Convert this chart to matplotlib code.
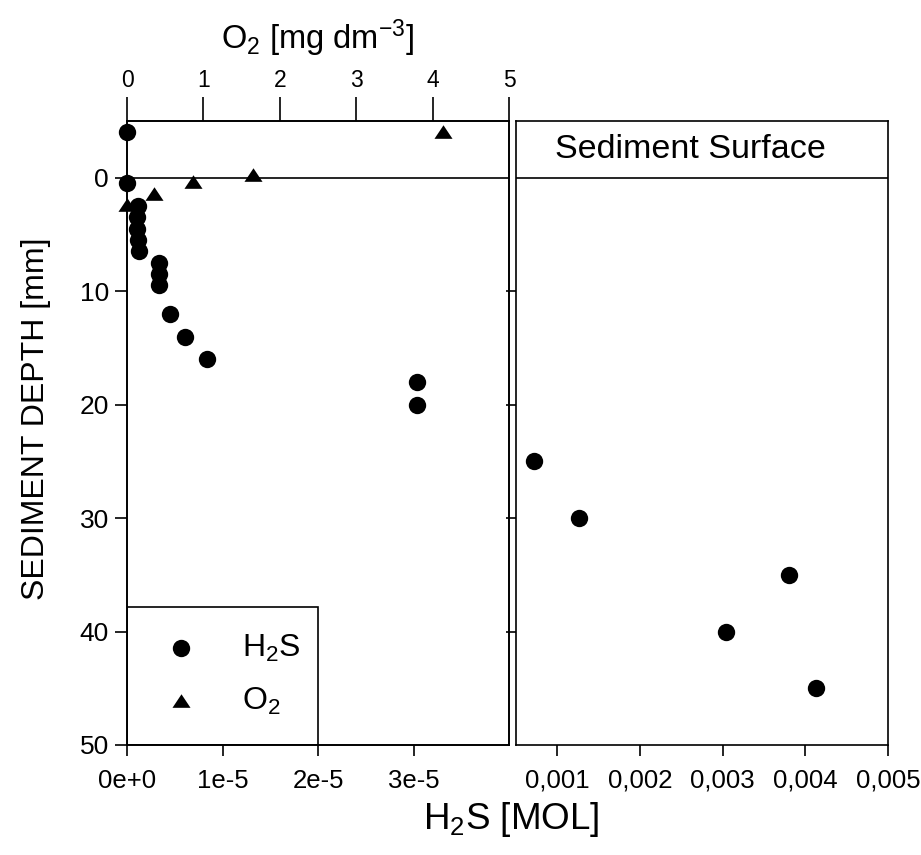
import matplotlib
matplotlib.use("Agg")
import matplotlib.pyplot as plt
from matplotlib.patches import Rectangle

plt.rcParams['font.family'] = ['Liberation Sans', 'DejaVu Sans']
plt.rcParams['mathtext.default'] = 'regular'

# ---- data ----
h2s_depth_low = [-4, 0.5, 2.5, 3.5, 4.5, 5.5, 6.5, 7.5, 8.5, 9.5, 12, 14, 16, 18, 20]
h2s_low = [0, 0, 1.2e-6, 1.0e-6, 1.0e-6, 1.1e-6, 1.3e-6, 3.3e-6, 3.3e-6, 3.3e-6,
           4.5e-6, 6.1e-6, 8.4e-6, 3.04e-5, 3.04e-5]
h2s_depth_high = [25, 30, 35, 40, 45]
h2s_high = [0.00072, 0.00126, 0.0038, 0.00304, 0.00413]
o2_depth = [-4, -0.2, 0.4, 1.4, 2.4]
o2 = [4.14, 1.65, 0.87, 0.35, 0.0]

depth_ticks = [0, 10, 20, 30, 40, 50]
left_ticks = [0, 1e-5, 2e-5, 3e-5]
left_tick_labels = ['0e+0', '1e-5', '2e-5', '3e-5']
right_ticks = [0.001, 0.002, 0.003, 0.004, 0.005]
right_tick_labels = ['0,001', '0,002', '0,003', '0,004', '0,005']
o2_ticks = [0, 1, 2, 3, 4, 5]

# ---- figure ----
fig = plt.figure(figsize=(9.21, 8.55), dpi=100)
axL = fig.add_axes([0.1379, 0.1287, 0.4148, 0.7298])
axR = fig.add_axes([0.5603, 0.1287, 0.4039, 0.7298])

lw = 1.2
tri = [(-1, -0.7), (1, -0.7), (0, 0.8)]

for ax in (axL, axR):
    ax.set_ylim(50, -5)
    for s in ax.spines.values():
        s.set_linewidth(lw)
    ax.axhline(0, color='black', lw=lw)

# left panel
axL.set_xlim(0, 4e-5)
axL.set_xticks(left_ticks)
axL.set_xticklabels(left_tick_labels)
axL.set_yticks(depth_ticks)
axL.tick_params(axis='x', direction='out', length=8, width=lw, labelsize=18.5, pad=9)
axL.tick_params(axis='y', direction='out', length=9, width=lw, labelsize=19, pad=4)
sc1 = axL.scatter(h2s_low, h2s_depth_low, s=12.5**2, color='black', marker='o',
                  clip_on=False, zorder=3, linewidths=0)

axO = axL.twiny()
axO.set_xlim(0, 5)
axO.set_ylim(50, -5)
axO.set_xticks(o2_ticks)
axO.tick_params(axis='x', direction='out', length=17, width=lw, labelsize=16.5, pad=4)
for s in axO.spines.values():
    s.set_linewidth(lw)
sc2 = axO.scatter(o2, o2_depth, s=13**2, color='black', marker=tri,
                  clip_on=False, zorder=3, linewidths=0)
axO.set_xlabel(r'O$_2$ [mg dm$^{-3}$]', fontsize=23.5, labelpad=14)

axL.set_ylabel('SEDIMENT DEPTH [mm]', fontsize=23)
axL.yaxis.set_label_coords(-0.2, 0.522)

# legend
axL.add_patch(Rectangle((0, 0), 0.5, 0.221, transform=axL.transAxes, fill=False,
                        lw=lw, edgecolor='black', zorder=4))
leg = axL.legend([sc1, sc2], [r'H$_2$S', r'O$_2$'], loc='upper left',
                 bbox_to_anchor=(0.058, 0.18), borderaxespad=0, borderpad=0,
                 frameon=False, fontsize=23, handlelength=2, handletextpad=0.92,
                 labelspacing=0.68, markerscale=1.0)

# right panel
axR.set_xlim(0.0005, 0.005)
axR.set_xticks(right_ticks)
axR.set_xticklabels(right_tick_labels)
axR.set_yticks([10, 20, 30, 40])
axR.tick_params(axis='x', direction='out', length=8, width=lw, labelsize=18.5, pad=9)
axR.tick_params(axis='y', direction='out', length=7, width=lw, labelleft=False)
axR.scatter(h2s_high, h2s_depth_high, s=12.5**2, color='black', marker='o',
            clip_on=False, zorder=3, linewidths=0)
axR.text(0.00261, -2.5, 'Sediment Surface', fontsize=24.5, ha='center', va='center')

fig.text(0.555, 0.041, r'H$_2$S [MOL]', fontsize=26.5, ha='center', va='center')

fig.savefig('out.png', dpi=100)
